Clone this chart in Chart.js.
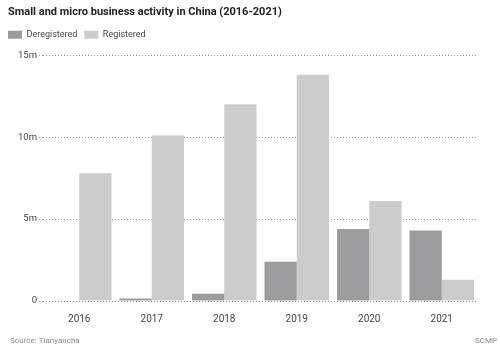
<!DOCTYPE html>
<html>
<head>
<meta charset="utf-8">
<script src="https://cdn.jsdelivr.net/npm/chart.js@4"></script>
<style>
  html, body { margin: 0; padding: 0; background: #fff; }
  #wrap { width: 500px; height: 349px; }
</style>
</head>
<body>
<div id="wrap"><canvas id="c" width="500" height="349"></canvas></div>
<script>
// Small and micro business activity in China, millions of businesses
const years = ['2016', '2017', '2018', '2019', '2020', '2021'];
const deregistered = [0.03, 0.15, 0.45, 2.4, 4.4, 4.3];
const registered = [7.8, 10.1, 12.0, 13.8, 6.1, 1.3];
const yTicks = [0, 5, 10, 15];

const FONT = 'Roboto, "Liberation Sans", Arial, sans-serif';

// Source line and brand mark under the plot
const footer = {
  id: 'footer',
  afterDraw(chart) {
    const ctx = chart.ctx;
    ctx.save();
    ctx.font = '8px ' + FONT;
    ctx.fillStyle = '#888';
    ctx.textBaseline = 'middle';
    ctx.textAlign = 'left';
    ctx.fillText('Source: Tianyancha', 10, 341);
    ctx.textAlign = 'right';
    ctx.fillText('SCMP', 497, 341);
    ctx.restore();
  }
};

// Extra room below the legend, and legend aligned with the title's left edge
const legendGap = {
  id: 'legendGap',
  beforeInit(chart) {
    const fit = chart.legend.fit;
    chart.legend.fit = function () {
      fit.call(this);
      this.height += 6;
    };
  },
  afterLayout(chart) {
    chart.legend.left -= 7;
    chart.legend.right -= 7;
  }
};

new Chart(document.getElementById('c'), {
  type: 'bar',
  data: {
    labels: years,
    datasets: [
      { label: 'Deregistered', data: deregistered, backgroundColor: '#9c9c9e',
        barPercentage: 1.0, categoryPercentage: 0.89 },
      { label: 'Registered', data: registered, backgroundColor: '#cccccc',
        barPercentage: 1.0, categoryPercentage: 0.89 }
    ]
  },
  options: {
    responsive: false,
    animation: false,
    layout: { padding: { top: 6, left: 8, right: 22, bottom: 20 } },
    plugins: {
      title: {
        display: true,
        text: 'Small and micro business activity in China (2016-2021)',
        align: 'start',
        color: '#222',
        font: { family: FONT, size: 11, weight: 'bold' },
        padding: { top: 0, bottom: 4 }
      },
      legend: {
        display: true,
        align: 'start',
        labels: {
          boxWidth: 14, boxHeight: 8, padding: 7,
          color: '#444',
          font: { family: FONT, size: 9 }
        }
      },
      tooltip: { enabled: false }
    },
    scales: {
      x: {
        grid: { display: false },
        border: { display: false },
        ticks: { color: '#444', font: { family: FONT, size: 10 }, padding: 4 }
      },
      y: {
        min: 0, max: 15,
        afterBuildTicks(axis) { axis.ticks = yTicks.map(v => ({ value: v })); },
        afterFit(axis) { axis.width = 35; },
        border: { display: false, dash: [1, 2] },
        grid: { color: '#999', lineWidth: 1, tickLength: 4, tickBorderDash: [1, 2] },
        ticks: {
          color: '#444', font: { family: FONT, size: 9.5 }, padding: 2,
          callback: v => (v === 0 ? '0' : v + 'm')
        }
      }
    }
  },
  plugins: [footer, legendGap]
});
</script>
</body>
</html>
